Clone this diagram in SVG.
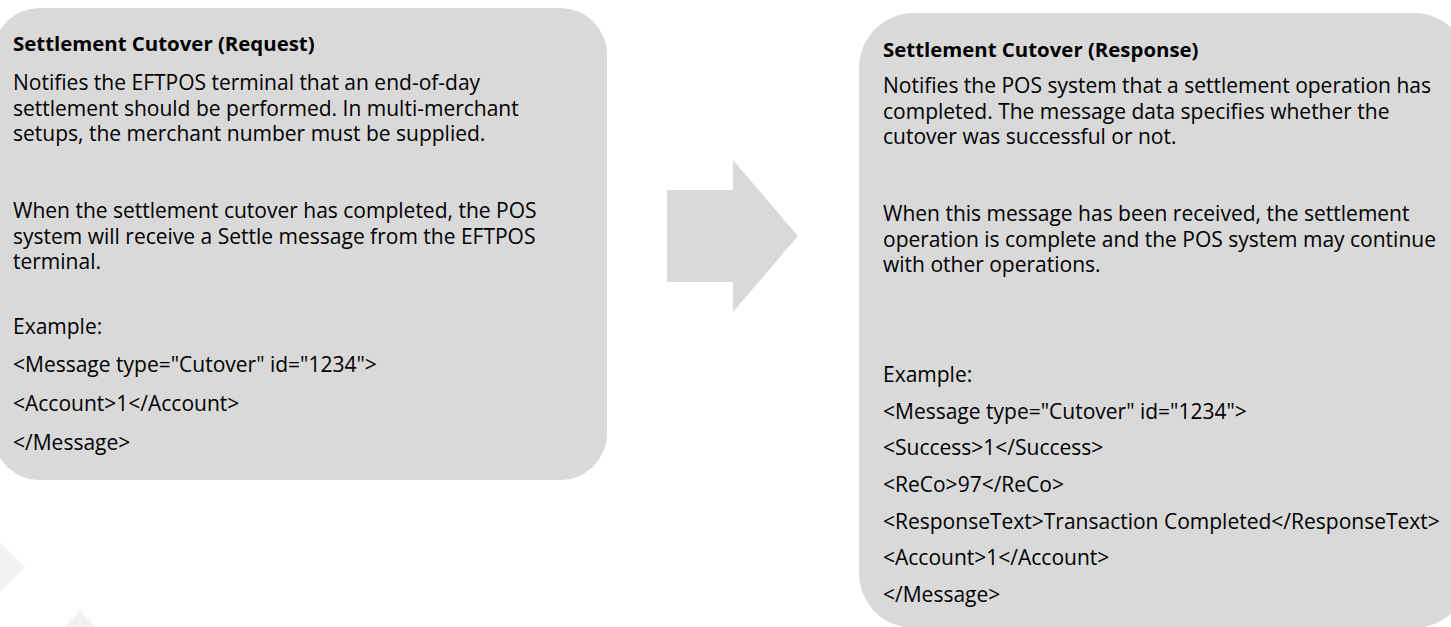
<svg xmlns="http://www.w3.org/2000/svg" width="1451" height="627" viewBox="0 0 1451 627">
  <style>
    .box { fill: #d9d9d9; }
    .wm { fill: #f2f2f2; }
    .t { font-family: "Open Sans", "Liberation Sans", sans-serif; font-size: 21px; fill: #000; }
    .h { font-family: "Open Sans", "Liberation Sans", sans-serif; font-size: 20.4px; font-weight: bold; fill: #000; }
  </style>
  <rect width="1451" height="627" fill="#ffffff"/>
  <g id="watermark">
    <polygon class="wm" points="0,542 25,567 0,592"/>
    <polygon class="wm" points="64,627 80,611 96,627"/>
  </g>
  <g id="request">
    <rect class="box" x="-7" y="8" width="614" height="472" rx="47" ry="47"/>
    <text class="h" x="13" y="51">Settlement Cutover (Request)</text>
    <text class="t" x="13" y="90">Notifies the EFTPOS terminal that an end-of-day</text>
    <text class="t" x="13" y="115.6">settlement should be performed. In multi-merchant</text>
    <text class="t" x="13" y="141">setups, the merchant number must be supplied.</text>
    <text class="t" x="13" y="218">When the settlement cutover has completed, the POS</text>
    <text class="t" x="13" y="243.6">system will receive a Settle message from the EFTPOS</text>
    <text class="t" x="13" y="269">terminal.</text>
    <text class="t" x="13" y="334">Example:</text>
    <text class="t" x="13" y="372">&lt;Message type="Cutover" id="1234"&gt;</text>
    <text class="t" x="13" y="411">&lt;Account&gt;1&lt;/Account&gt;</text>
    <text class="t" x="13" y="450">&lt;/Message&gt;</text>
  </g>
  <g id="connectors">
    <polygon class="box" points="667,190 733,190 733,160 798,236 733,312 733,282 667,282"/>
  </g>
  <g id="response">
    <rect class="box" x="859" y="13" width="610" height="615" rx="55" ry="55"/>
    <text class="h" x="883" y="57">Settlement Cutover (Response)</text>
    <text class="t" x="883" y="93">Notifies the POS system that a settlement operation has</text>
    <text class="t" x="883" y="118.6">completed. The message data specifies whether the</text>
    <text class="t" x="883" y="144">cutover was successful or not.</text>
    <text class="t" x="883" y="221">When this message has been received, the settlement</text>
    <text class="t" x="883" y="246.6">operation is complete and the POS system may continue</text>
    <text class="t" x="883" y="272">with other operations.</text>
    <text class="t" x="883" y="382">Example:</text>
    <text class="t" x="883" y="419">&lt;Message type="Cutover" id="1234"&gt;</text>
    <text class="t" x="883" y="455">&lt;Success&gt;1&lt;/Success&gt;</text>
    <text class="t" x="883" y="492">&lt;ReCo&gt;97&lt;/ReCo&gt;</text>
    <text class="t" x="883" y="529">&lt;ResponseText&gt;Transaction Completed&lt;/ResponseText&gt;</text>
    <text class="t" x="883" y="565">&lt;Account&gt;1&lt;/Account&gt;</text>
    <text class="t" x="883" y="602">&lt;/Message&gt;</text>
  </g>
</svg>
